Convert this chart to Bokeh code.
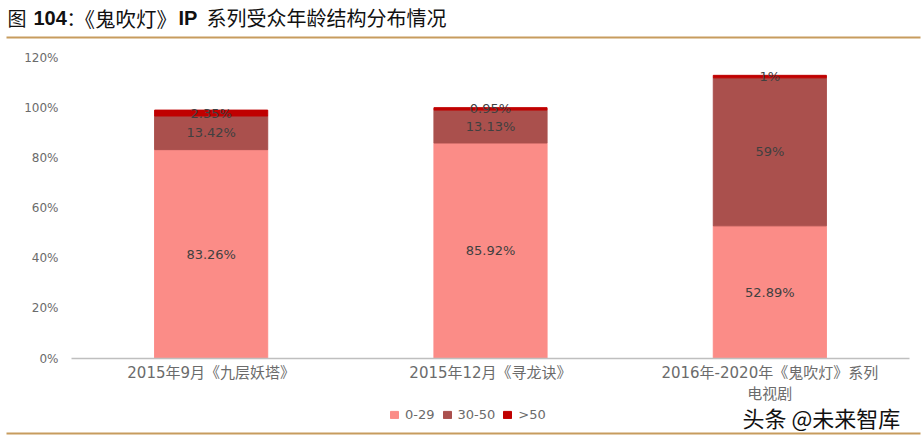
from bokeh.core.properties import value
from bokeh.embed import file_html
from bokeh.layouts import column
from bokeh.models import FactorRange, Label, Legend, LegendItem, PrintfTickFormatter, Range1d
from bokeh.plotting import figure
from bokeh.resources import INLINE

# data
categories = ["2015年9月《九层妖塔》", "2015年12月《寻龙诀》", "2016年-2020年《鬼吹灯》系列\n电视剧"]
young = [83.26, 85.92, 52.89]
middle = [13.42, 13.13, 59]
old = [2.35, 0.95, 1]
young_labels = ["83.26%", "85.92%", "52.89%"]
middle_labels = ["13.42%", "13.13%", "59%"]
old_labels = ["2.35%", "0.95%", "1%"]
series_names = ["0-29", "30-50", ">50"]
y_ticks = [0, 20, 40, 60, 80, 100, 120]

colors = ["#FB8C87", "#AA504D", "#C00000"]
rule_color = "#C79C5E"
sans = "'DejaVu Sans', 'Noto Sans CJK SC'"
cjk = "Noto Sans CJK SC"
latin_bold = "Liberation Sans"

WIDTH = 924
AXIS_ROOM = 49  # what the two-line category labels need below the frame
FOOTER_TOP = 400


def strip_figure(height, rule_y):
    # full-canvas strip so its labels are not clipped by a frame
    f = figure(width=WIDTH, height=height, x_range=Range1d(0, WIDTH), y_range=Range1d(0, height),
               output_backend="svg", toolbar_location=None, x_axis_location=None, y_axis_location=None,
               min_border=0, outline_line_color=None, frame_align=False,
               background_fill_alpha=0, border_fill_alpha=0)
    f.grid.visible = False
    f.segment(x0=[6], x1=[920], y0=[rule_y], y1=[rule_y], line_color=rule_color, line_width=2)
    return f


# header: title pieces + rule
header = strip_figure(40, 3)
title_parts = [
    ("图", 7, cjk, "normal", 19),
    ("104", 33, latin_bold, "bold", 20),
    ("：", 66, cjk, "normal", 19),
    ("《鬼吹灯》", 74, cjk, "normal", 20.5),
    ("IP", 178, latin_bold, "bold", 20),
    ("系列受众年龄结构分布情况", 206, cjk, "normal", 20),
]
for txt, xpos, font, style, size in title_parts:
    header.add_layout(Label(x=xpos, y=23, x_units="screen", y_units="screen", text=txt, text_font=font,
                            text_font_style=style, text_font_size=f"{size}px", text_color="#111111",
                            text_baseline="middle"))

# main chart
chart_height = 318 + AXIS_ROOM
p = figure(width=WIDTH, height=chart_height, x_range=FactorRange(*categories, range_padding=0, factor_padding=0),
           y_range=Range1d(0, 120), output_backend="svg", toolbar_location=None,
           min_border_left=71, min_border_right=15, min_border_top=17, min_border_bottom=AXIS_ROOM,
           outline_line_color=None, frame_align=False)
p.vbar_stack(["young", "middle", "old"], x="cat", width=0.405, color=colors,
             source=dict(cat=categories, young=young, middle=middle, old=old))
p.grid.visible = False

p.yaxis.ticker = y_ticks
p.yaxis.formatter = PrintfTickFormatter(format="%d%%")
p.yaxis.axis_line_color = None
p.yaxis.major_tick_line_color = None
p.yaxis.minor_tick_line_color = None
p.yaxis.major_label_text_font = sans
p.yaxis.major_label_text_font_size = "12px"
p.yaxis.major_label_text_color = "#6b6b6b"
p.yaxis.major_label_standoff = 7

p.xaxis.axis_line_color = "#BFBFBF"
p.xaxis.axis_line_width = 1.5
p.xaxis.major_tick_line_color = None
p.xaxis.minor_tick_line_color = None
p.xaxis.major_label_text_font = sans
p.xaxis.major_label_text_font_size = "15px"
p.xaxis.major_label_text_color = "#6b6b6b"
p.xaxis.major_label_standoff = -1

# data labels, centred in each stack segment
bottoms = [0, 0, 0]
for vals, labels in [(young, young_labels), (middle, middle_labels), (old, old_labels)]:
    mids = [b + v / 2 for b, v in zip(bottoms, vals)]
    p.text(x=categories, y=mids, text=labels, text_align="center", text_baseline="middle",
           text_font=value("DejaVu Sans"), text_font_size="13px", text_color="#404040")
    bottoms = [b + v for b, v in zip(bottoms, vals)]

# footer: legend, watermark, rule; starts right under the category labels
footer = strip_figure(436 - FOOTER_TOP, 3)
footer.margin = (FOOTER_TOP - (40 + chart_height), 0, 0, 0)
# swatches sit outside the strip's ranges, only the legend shows them
swatches = [footer.vbar(x=[-50], top=[-50], width=1, color=c) for c in colors]
legend = Legend(items=[LegendItem(label=n, renderers=[r]) for n, r in zip(series_names, swatches)],
                orientation="horizontal", location=(389, 14), border_line_color=None,
                background_fill_alpha=0, label_text_font="DejaVu Sans", label_text_font_size="13px",
                label_text_color="#6b6b6b", glyph_width=10, glyph_height=9, spacing=7,
                label_standoff=6, padding=0, margin=0)
footer.add_layout(legend, "center")
footer.add_layout(Label(x=742, y=20, x_units="screen", y_units="screen", text="头条 @未来智库", text_font=cjk,
                        text_font_size="22px", text_color="#111111", text_baseline="middle"))

layout = column(header, p, footer, spacing=0)
open("out.html", "w").write(file_html(layout, INLINE))
